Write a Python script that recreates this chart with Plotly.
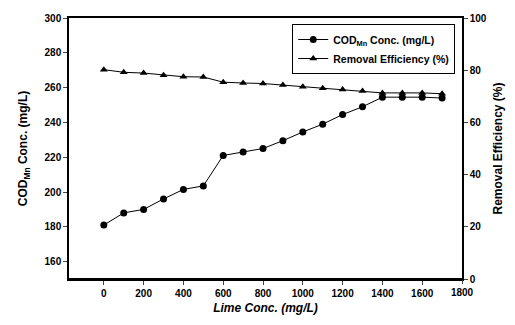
import plotly.graph_objects as go

lime = [0, 100, 200, 300, 400, 500, 600, 700, 800, 900, 1000, 1100, 1200, 1300, 1400, 1500, 1600, 1700]
cod = [181, 188, 190, 196, 201.5, 203.5, 221, 223, 225, 229.5, 234.5, 239, 244.5, 249, 254.5, 254.5, 254.5, 254]
eff = [80.2, 79.2, 78.9, 78.1, 77.5, 77.4, 75.4, 75.1, 74.9, 74.3, 73.7, 73.1, 72.6, 72.0, 71.3, 71.3, 71.3, 71.0]

x_ticks = [0, 200, 400, 600, 800, 1000, 1200, 1400, 1600, 1800]
y1_ticks = [160, 180, 200, 220, 240, 260, 280, 300]
y2_ticks = [0, 20, 40, 60, 80, 100]
x_range = [-175, 1800]

FONT = "Liberation Sans"
tf = dict(family=FONT, size=10, color="black", weight="bold")

fig = go.Figure()
fig.add_trace(go.Scatter(
    x=lime, y=cod, name="COD<sub>Mn</sub> Conc. (mg/L)", mode="lines+markers",
    line=dict(color="black", width=1), marker=dict(symbol="circle", size=7, color="black"),
))
fig.add_trace(go.Scatter(
    x=lime, y=eff, name="Removal Efficiency (%)", mode="lines+markers",
    xaxis="x2", yaxis="y2",
    line=dict(color="black", width=1), marker=dict(symbol="triangle-up", size=7, color="black"),
))

fig.update_layout(
    width=515, height=325,
    margin=dict(l=69, r=48, t=15, b=46),
    paper_bgcolor="white", plot_bgcolor="white",
    showlegend=True,
    legend=dict(x=0.568, y=0.977, xanchor="left", yanchor="top",
                bordercolor="black", borderwidth=1, bgcolor="white",
                font=dict(family=FONT, size=10.5, color="black", weight="bold"),
                tracegroupgap=0, itemwidth=30),
    xaxis=dict(range=x_range, tickvals=x_ticks[:-1], ticks="outside", ticklen=4,
               showline=True, linecolor="black", linewidth=1.5, mirror=True,
               showgrid=False, zeroline=False, tickfont=tf,
               title=dict(text="<i>Lime Conc. (mg/L)</i>", standoff=6,
                          font=dict(family=FONT, size=12, color="black", weight="bold"))),
    xaxis2=dict(range=x_range, tickvals=x_ticks[-1:], ticks="outside", ticklen=4,
                overlaying="x", anchor="free", position=0, side="bottom",
                showline=True, linecolor="black", linewidth=1.5,
                showgrid=False, zeroline=False, tickfont=tf),
    yaxis=dict(range=[150, 300], tickvals=y1_ticks, ticks="outside", ticklen=4,
               showline=True, linecolor="black", linewidth=1.5,
               showgrid=False, zeroline=False, tickfont=tf,
               title=dict(text="COD<sub>Mn</sub> Conc. (mg/L)", standoff=14,
                          font=dict(family=FONT, size=12, color="black", weight="bold"))),
    yaxis2=dict(range=[0, 100], tickvals=y2_ticks, ticks="outside", ticklen=4,
                overlaying="y", side="right", anchor="x",
                showline=True, linecolor="black", linewidth=1.5,
                showgrid=False, zeroline=False, tickfont=tf,
                title=dict(text="Removal Efficiency (%)", standoff=8,
                           font=dict(family=FONT, size=12, color="black", weight="bold"))),
)

fig.write_html("out.html")
